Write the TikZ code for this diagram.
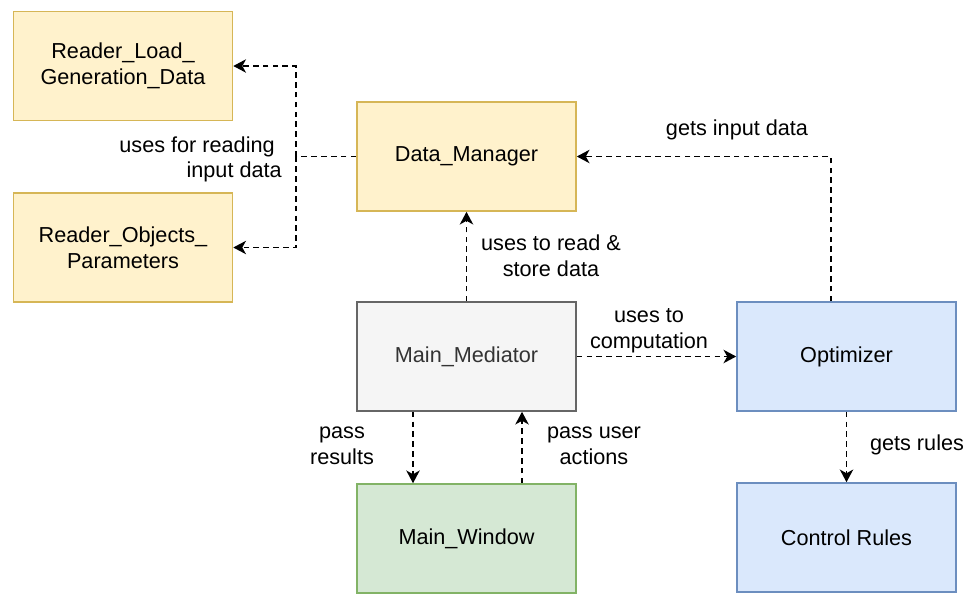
\documentclass[tikz,border=0pt]{standalone}
\usepackage{fontspec}
\setmainfont{Liberation Sans}
\usetikzlibrary{arrows.meta,calc}

\definecolor{yfill}{HTML}{FFF2CC}
\definecolor{ydraw}{HTML}{D6B656}
\definecolor{gfill}{HTML}{F5F5F5}
\definecolor{gdraw}{HTML}{666666}
\definecolor{gtext}{HTML}{333333}
\definecolor{bfill}{HTML}{DAE8FC}
\definecolor{bdraw}{HTML}{6C8EBF}
\definecolor{grfill}{HTML}{D5E8D4}
\definecolor{grdraw}{HTML}{82B366}

\begin{document}
\begin{tikzpicture}[x=0.025cm,y=-0.025cm,
  font=\fontsize{15.4}{18.2}\selectfont,
  block/.style={draw, line width=1.1pt, minimum width=5.475cm,
    minimum height=2.725cm, align=center, inner sep=0pt},
  yellowblock/.style={block, fill=yfill, draw=ydraw},
  grayblock/.style={block, fill=gfill, draw=gdraw, text=gtext},
  blueblock/.style={block, fill=bfill, draw=bdraw},
  greenblock/.style={block, fill=grfill, draw=grdraw},
  dashline/.style={line width=1.25pt, dash pattern=on 4pt off 3pt},
  link/.style={dashline, -{Stealth[length=9pt,width=9.5pt,inset=2.6pt]}},
  lbl/.style={align=center, inner sep=0pt}
]
\useasboundingbox (0,0) rectangle (971,594);

% components
\node[yellowblock] (rl) at (123,66) {Reader\_Load\_\\Generation\_Data};
\node[yellowblock] (ro) at (123,247.5) {Reader\_Objects\_\\Parameters};
\node[yellowblock] (dm) at (466.5,156.5) {Data\_Manager};
\node[grayblock]   (mm) at (466.5,356.5) {Main\_Mediator};
\node[blueblock]   (op) at (846.5,356.5) {Optimizer};
\node[greenblock]  (mw) at (466.5,538.5) {Main\_Window};
\node[blueblock]   (cr) at (846.5,537.5) {Control Rules};

% Data_Manager fans out to both readers
\coordinate (split) at (296,156.5);
\draw[dashline] (dm.west) -- (split);
\draw[link] (split) |- (rl.east);
\draw[link] (split) |- (ro.east);

% remaining relations
\draw[link] (mm.north) -- (dm.south);
\draw[link] ($(op.north)+(-15.5,0)$) |- (dm.east);
\draw[link] (mm.east) -- (op.west);
\draw[link] ($(mm.south)+(-53.5,0)$) -- ($(mw.north)+(-53.5,0)$);
\draw[link] ($(mw.north)+(55.5,0)$) -- ($(mm.south)+(55.5,0)$);
\draw[link] (op.south) -- (cr.north);

% relation labels
\node[lbl, align=right, anchor=east] (lread) at (282,159.5)
  {uses for reading\hspace*{5pt}\mbox{}\\input data};
\node[lbl] (lstore) at (551,255.5) {uses to read \&\\store data};
\node[lbl] (lgets)  at (737,130) {gets input data};
\node[lbl] (lcomp)  at (649,330.5) {uses to\\computation};
\node[lbl] (lres)   at (342,446) {pass\\results};
\node[lbl] (luser)  at (594,446) {pass user\\actions};
\node[lbl] (lrules) at (917,445) {gets rules};
\end{tikzpicture}
\end{document}
